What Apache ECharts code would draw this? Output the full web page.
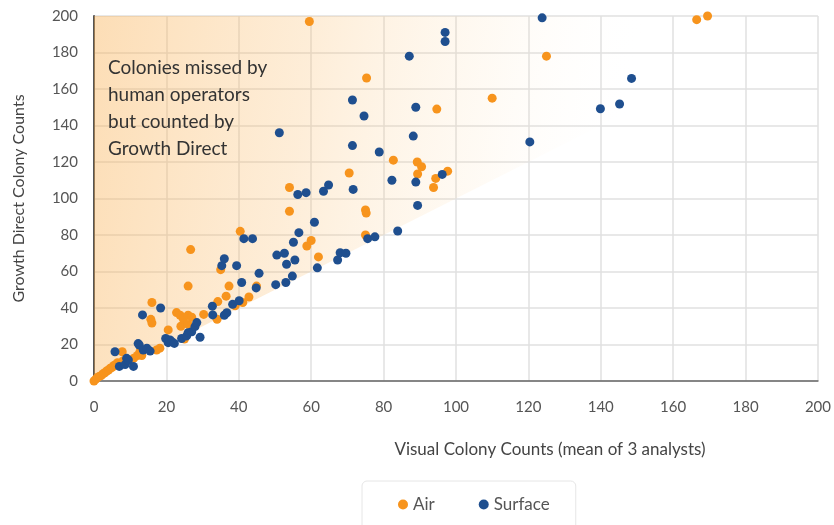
<!DOCTYPE html>
<html>
<head>
<meta charset="utf-8">
<script src="https://cdn.jsdelivr.net/npm/echarts@6/dist/echarts.min.js"></script>
<style>html,body{margin:0;padding:0;background:#fff;}#c{width:834px;height:525px;}</style>
</head>
<body>
<div id="c"></div>
<script>
const xTicks = [0,20,40,60,80,100,120,140,160,180,200];
const yTicks = [0,20,40,60,80,100,120,140,160,180,200];
const seriesNames = ['Air','Surface'];
const airData = [[0,0],[0.5,1],[1,2],[1.5,2.5],[2,3],[2.5,4],[3,4.5],[3.5,5.5],[4,6],[4.5,7],[5,7.5],[5.5,8.5],[6,9],[6.5,10],[7,9],[7.8,16],[8,11],[9,12],[10,11],[11,12.5],[12,14],[12.7,16],[13.2,14],[15.7,33.8],[16,31.8],[16,43],[17.3,17],[18.2,18],[20.5,28],[22.8,37.5],[23.8,36],[24,30],[24.7,34],[25,23],[26,36],[26,31],[26,52],[26.7,72],[27,35],[30.3,36.5],[34,33.8],[34.2,43.5],[35,61],[36.5,46.5],[37.3,52],[39,41.2],[40.4,82],[41.1,43],[42.8,46],[44.9,52],[54,106],[54,93],[58.8,74],[59.5,197],[60,77],[62,68],[70.5,114],[75,93.7],[75.2,92],[75,80],[75.3,166],[82.7,121],[89.3,120],[90.5,117.4],[89.4,113.4],[93.8,106],[94.4,111],[94.7,149],[97.7,115],[110,155],[125,178],[166.5,198],[169.5,200]];
const surfaceData = [[5.8,16],[7,8],[8.6,9],[9,12.4],[9.5,11.5],[10.9,8],[12.2,20.5],[12.5,19.7],[13.4,36.2],[13.6,17],[14.6,18],[15.5,16.4],[18.4,40],[19.8,23.3],[20.5,21],[21,22.5],[21.5,21.5],[22.2,20.6],[24.2,23.3],[25.6,24.7],[26,26.5],[27,27],[27.9,29.8],[28.4,32],[29.3,24],[32.7,41],[32.8,36.2],[35.3,63.2],[36,67],[36,36],[36.7,37.4],[38.3,42],[39.4,63.2],[40.1,44],[40.8,54],[41.4,78],[43.8,78],[44.8,51],[45.6,59],[50.2,52.8],[50.5,69],[51.2,136],[52.6,70],[53,54],[53.2,64],[54.8,57.5],[55.1,76],[55.5,66.3],[56.3,102.2],[56.6,81.3],[58.6,103.2],[60.9,87],[61.7,62],[63.4,104],[64.8,107.4],[67.3,66.3],[68,70.3],[69.6,70],[71.4,154],[71.4,129],[71.6,105],[74.6,145.2],[75.6,78],[77.6,79],[78.8,125.5],[82.3,110],[83.9,82.2],[87.1,178],[88.2,134.2],[88.9,150],[88.9,109],[89.4,96.2],[96.2,113.2],[97,191],[97,186],[120.4,131],[123.8,199],[139.9,149.2],[145.2,151.8],[148.5,165.8]];
const shadeCorners = [[0,0],[0,200],[200,200]];
const annotation = ['Colonies missed by','human operators','but counted by','Growth Direct'];
const xTitle = 'Visual Colony Counts (mean of 3 analysts)';
const yTitle = 'Growth Direct Colony Counts';

const FONT = 'Lato, "Noto Sans", sans-serif';
const chart = echarts.init(document.getElementById('c'), null, {renderer:'canvas'});
chart.setOption({
  animation:false,
  backgroundColor:'#fff',
  grid:{left:94,right:16,top:16,bottom:144},
  xAxis:{type:'value',min:xTicks[0],max:xTicks[xTicks.length-1],interval:20,
    axisLine:{show:true,lineStyle:{color:'#666',width:1.5}},
    axisTick:{show:false},
    axisLabel:{color:'#555',fontSize:15,fontFamily:FONT,margin:19},
    splitLine:{show:true,lineStyle:{color:'#e0e0e0',width:1.5}}},
  yAxis:{type:'value',min:yTicks[0],max:yTicks[yTicks.length-1],interval:20,
    name:yTitle,nameLocation:'middle',nameGap:67,nameTextStyle:{color:'#444',fontSize:16,fontFamily:FONT},
    axisLine:{show:true,lineStyle:{color:'#555',width:2}},
    axisTick:{show:false},
    axisLabel:{color:'#555',fontSize:15,fontFamily:FONT,margin:16},
    splitLine:{show:true,lineStyle:{color:'#e0e0e0',width:1.5}}},
  legend:{data:seriesNames,left:362,top:481,padding:[15,26,25,36],itemGap:44,
    itemWidth:10,itemHeight:10,icon:'circle',
    borderColor:'#e6e6e6',borderWidth:1,borderRadius:5,
    textStyle:{color:'#555',fontSize:17,fontFamily:FONT}},
  graphic:[
    {type:'text',left:108,top:54,z:10,style:{text:annotation.join('\n'),font:'19px '+FONT,fill:'#333',lineHeight:27}},
    {type:'text',x:550,y:450,z:10,style:{text:xTitle,font:'17px '+FONT,fill:'#444',textAlign:'center',textVerticalAlign:'middle'}}
  ],
  series:[
    {type:'custom',silent:true,z:1,data:[0],
      renderItem:function(params,api){
        const pts = shadeCorners.map(p=>api.coord(p));
        return {type:'polygon',shape:{points:pts},style:{
          fill:new echarts.graphic.LinearGradient(0,0,1,0.3,[
            {offset:0,color:'rgba(249,175,80,0.42)'},
            {offset:0.3,color:'rgba(250,185,100,0.25)'},
            {offset:0.55,color:'rgba(252,210,150,0.1)'},
            {offset:0.75,color:'rgba(255,255,255,0)'}])}};
      }},
    {name:seriesNames[0],type:'scatter',data:airData,symbolSize:9,itemStyle:{color:'#f7941d',opacity:1},z:3},
    {name:seriesNames[1],type:'scatter',data:surfaceData,symbolSize:9,itemStyle:{color:'#1f4f8f',opacity:1},z:4}
  ]
});
</script>
</body>
</html>
